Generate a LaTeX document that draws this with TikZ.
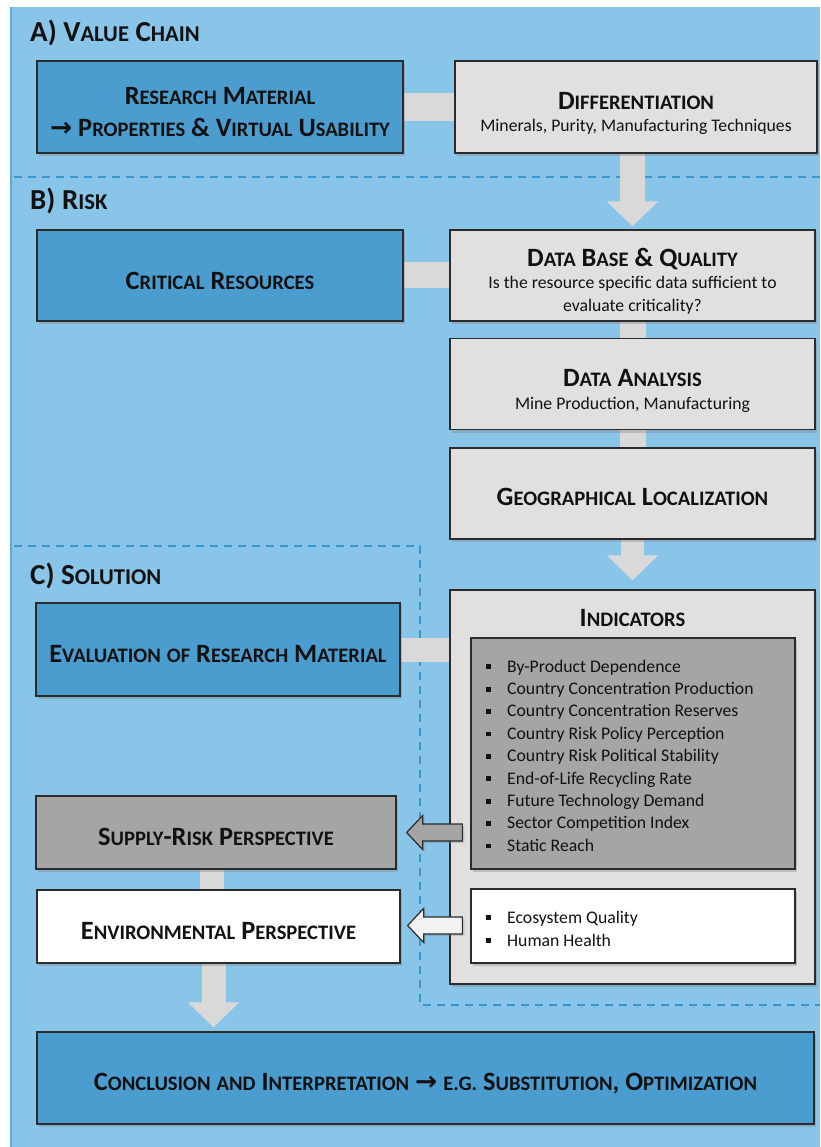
\documentclass[tikz,border=0pt]{standalone}
\usepackage{fontspec}
\setmainfont{Carlito}
\newfontfamily\arrowfont{DejaVu Sans}
\usetikzlibrary{calc,shadows,arrows.meta}
\makeatletter
\newcommand\W[2]{#1{\fontsize{\fpeval{0.78*\f@size}}{\f@baselineskip}\selectfont #2}}
\newcommand\Ws[1]{{\fontsize{\fpeval{0.78*\f@size}}{\f@baselineskip}\selectfont #1}}
\makeatother
\newcommand\bul{\makebox[0pt][r]{\rule[2.8pt]{4.8pt}{4.8pt}\hspace{16pt}}}
\definecolor{bgblue}{HTML}{89C4E9}
\definecolor{bgedge}{HTML}{5EA7D8}
\definecolor{boxblue}{HTML}{4A9DCE}
\definecolor{boxgray}{HTML}{E2E0DF}
\definecolor{boxdark}{HTML}{A5A5A5}
\definecolor{conngray}{HTML}{D9D9D9}
\definecolor{dashblue}{HTML}{3A97CE}
\definecolor{boxline}{HTML}{2B2B2B}
\definecolor{txt}{HTML}{111111}
\pgfdeclarelayer{bg}
\pgfdeclarelayer{conn}
\pgfsetlayers{bg,conn,main}
\tikzset{
  box/.style={draw=boxline, line width=1.3pt, inner sep=0pt,
    drop shadow={opacity=0.35,shadow xshift=2pt,shadow yshift=-3pt}},
  bluebox/.style={box, fill=boxblue},
  graybox/.style={box, fill=boxgray},
  darkbox/.style={box, fill=boxdark},
  whitebox/.style={box, fill=white},
  ttl/.style={anchor=base, inner sep=0pt, text=txt, font=\bfseries\fontsize{26.4}{30}\selectfont},
  hdr/.style={anchor=base west, inner sep=0pt, text=txt, font=\bfseries\fontsize{29}{32}\selectfont},
  sub/.style={anchor=base, inner sep=0pt, text=txt, font=\fontsize{17.7}{21}\selectfont},
  item/.style={anchor=base west, inner sep=0pt, text=txt, font=\fontsize{17.7}{21}\selectfont},
  conn/.style={draw=conngray, line width=26pt},
  blockarrow/.style={draw=conngray, line width=25pt, -{Triangle[width=50pt,length=25pt]}},
  larrow/.style={draw=boxline, line width=1.2pt, line join=miter},
  sep/.style={draw=dashblue, line width=1.6pt, dash pattern=on 8pt off 6pt}
}
\begin{document}
\begin{tikzpicture}[x=1pt,y=-1pt]
\useasboundingbox (0,0) rectangle (820,1147);
\begin{pgfonlayer}{bg}
  \fill[white] (0,0) rectangle (820,1147);
  \fill[bgblue] (10,7) rectangle (820,1147);
  \draw[bgedge, line width=2pt] (11,7) -- (11,1147);
  \draw[sep] (14,177) -- (820,177);
  \draw[sep] (14,546) -- (420,546) -- (420,1005) -- (820,1005);
\end{pgfonlayer}

% headers
\node[hdr] (hA) at (30,42) {A) \W{V}{ALUE} \W{C}{HAIN}};
\node[hdr] (hB) at (30,209.5) {B) \W{R}{ISK}};
\node[hdr] (hC) at (30,584.5) {C) \W{S}{OLUTION}};

% boxes
\node[bluebox, minimum width=366pt, minimum height=92pt] (rm) at (220,107) {};
\node[graybox, minimum width=362pt, minimum height=92pt] (diff) at (636,107) {};
\node[bluebox, minimum width=366pt, minimum height=91pt] (cr) at (220,275.5) {};
\node[graybox, minimum width=365pt, minimum height=91pt] (db) at (632.5,275.5) {};
\node[graybox, minimum width=365pt, minimum height=91pt] (da) at (632.5,384) {};
\node[graybox, minimum width=365pt, minimum height=91pt] (gl) at (632.5,493.5) {};
\node[graybox, minimum width=365pt, minimum height=394pt] (ind) at (632.5,787) {};
\node[darkbox, minimum width=324pt, minimum height=231pt] (ind1) at (633,753.5) {};
\node[whitebox, minimum width=324pt, minimum height=74pt] (ind2) at (633,926) {};
\node[bluebox, minimum width=364pt, minimum height=93pt] (ev) at (218,649.5) {};
\node[darkbox, minimum width=360pt, minimum height=73pt] (sup) at (216,832.5) {};
\node[whitebox, minimum width=363pt, minimum height=73pt] (env) at (218.5,926.5) {};
\node[bluebox, minimum width=777pt, minimum height=92pt] (con) at (425.5,1078) {};

% texts
\node[ttl] (rm-t1) at (220,104.5) {\W{R}{ESEARCH} \W{M}{ATERIAL}};
\node[ttl] (rm-t2) at (220,136.5) {{\arrowfont\bfseries →} \W{P}{ROPERTIES} \& \W{V}{IRTUAL} \W{U}{SABILITY}};
\node[ttl] (diff-t) at (636,109.5) {\W{D}{IFFERENTIATION}};
\node[sub] (diff-s) at (636,132) {Minerals, Purity, Manufacturing Techniques};
\node[ttl] (cr-t) at (220,289.5) {\W{C}{RITICAL} \W{R}{ESOURCES}};
\node[ttl] (db-t) at (632.5,266.5) {\W{D}{ATA} \W{B}{ASE} \& \W{Q}{UALITY}};
\node[sub] (db-s1) at (632.5,289) {Is the resource specific data sufficient to};
\node[sub] (db-s2) at (632.5,311) {evaluate criticality?};
\node[ttl] (da-t) at (632.5,386.5) {\W{D}{ATA} \W{A}{NALYSIS}};
\node[sub] (da-s) at (632.5,409) {Mine Production, Manufacturing};
\node[ttl] (gl-t) at (632.5,505.5) {\W{G}{EOGRAPHICAL} \W{L}{OCALIZATION}};
\node[ttl] (ind-t) at (632.5,626.5) {\W{I}{NDICATORS}};
\node[ttl] (ev-t) at (218,662.5) {\W{E}{VALUATION} \Ws{OF} \W{R}{ESEARCH} \W{M}{ATERIAL}};
\node[ttl] (sup-t) at (216,845.5) {\W{S}{UPPLY}-\W{R}{ISK} \W{P}{ERSPECTIVE}};
\node[ttl] (env-t) at (218.5,939.5) {\W{E}{NVIRONMENTAL} \W{P}{ERSPECTIVE}};
\node[ttl] (con-t) at (425.5,1090.5) {\W{C}{ONCLUSION} \Ws{AND} \W{I}{NTERPRETATION} {\arrowfont\bfseries →} \Ws{E.G.} \W{S}{UBSTITUTION}, \W{O}{PTIMIZATION}};

% indicator lists
\foreach \txt [count=\i from 0] in {By-Product Dependence, Country Concentration Production, Country Concentration Reserves, Country Risk Policy Perception, Country Risk Political Stability, End-of-Life Recycling Rate, Future Technology Demand, Sector Competition Index, Static Reach}
  \node[item] (li\i) at (507,672+22.4*\i) {\bul\txt};
\node[item] (le1) at (507,923) {\bul Ecosystem Quality};
\node[item] (le2) at (507,946) {\bul Human Health};

% connectors
\begin{pgfonlayer}{conn}
  \draw[conn, line width=28pt] (rm.east) -- (rm.east -| diff.west);
  \draw[conn] (cr.east) -- (cr.east -| db.west);
  \draw[conn] (db.south) -- (da.north);
  \draw[conn] (da.south) -- (gl.north);
  \draw[conn, line width=24pt] (ev.east) -- (ev.east -| ind.west);
  \draw[conn, line width=24pt] ([xshift=-4pt]sup.south) -- ([xshift=-4pt]sup.south |- env.north);
  \draw[blockarrow] (diff.south -| db.north) -- ([yshift=3pt]db.north);
  \draw[blockarrow, line width=23pt] (gl.south) -- ([yshift=9pt]ind.north);
  \draw[blockarrow, line width=24pt] ([xshift=-5pt]env.south) -- ([xshift=-5pt,yshift=4pt]env.south |- con.north);
\end{pgfonlayer}

% left block arrows
\coordinate (t1) at ($(sup.east)+(10,0)$);
\draw[larrow, fill=boxdark, drop shadow={opacity=0.3,shadow xshift=2pt,shadow yshift=-2pt}]
  (t1) -- ++(16,-17) -- ++(0,8.5) -- ($(ind1.west |- t1)+(-8,-8.5)$) -- ++(0,17)
  -- ($(t1)+(16,8.5)$) -- ++(0,8.5) -- cycle;
\coordinate (t2) at ($(env.east)+(7,-1)$);
\draw[larrow, fill=white!95!black, drop shadow={opacity=0.3,shadow xshift=2pt,shadow yshift=-2pt}]
  (t2) -- ++(16,-17) -- ++(0,8.5) -- ($(ind2.west |- t2)+(-8,-8.5)$) -- ++(0,17)
  -- ($(t2)+(16,8.5)$) -- ++(0,8.5) -- cycle;
\end{tikzpicture}
\end{document}
